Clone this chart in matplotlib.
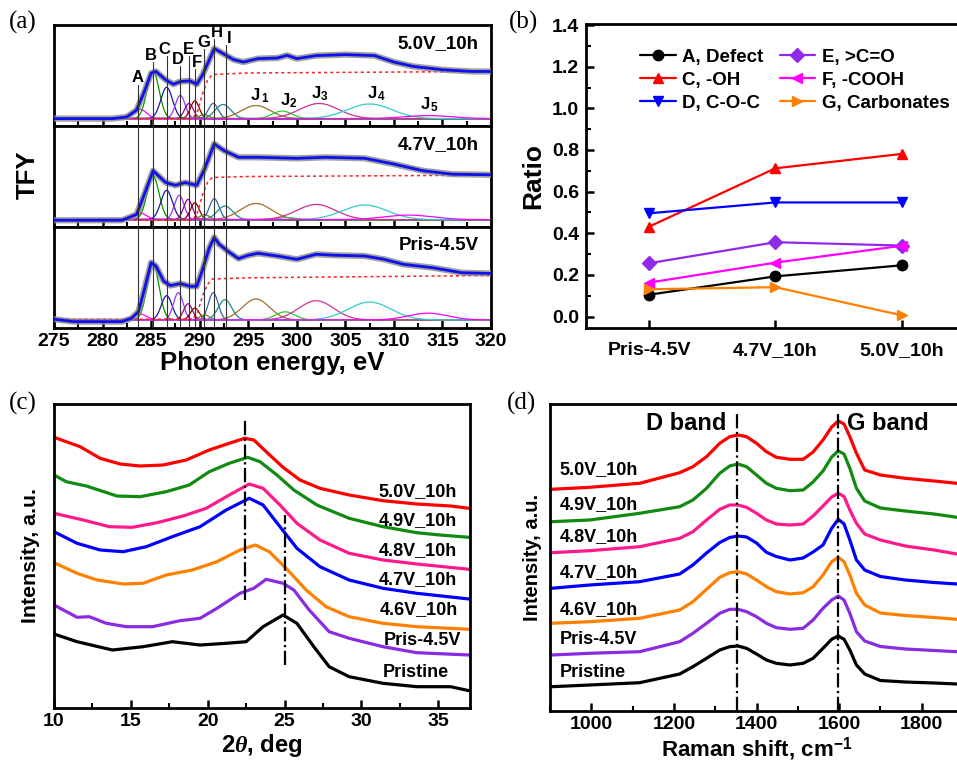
import numpy as np
import matplotlib
matplotlib.use("Agg")
import matplotlib.pyplot as plt
from matplotlib.ticker import MultipleLocator, FormatStrFormatter

plt.rcParams['font.family'] = ['Liberation Sans', 'DejaVu Sans']
plt.rcParams['font.weight'] = 'bold'
plt.rcParams['mathtext.fontset'] = 'custom'
plt.rcParams['mathtext.rm'] = 'Liberation Sans:bold'
plt.rcParams['mathtext.bf'] = 'Liberation Sans:bold'
plt.rcParams['mathtext.it'] = 'Liberation Serif:italic:bold'
plt.rcParams['lines.solid_joinstyle'] = 'round'
plt.rcParams['lines.solid_capstyle'] = 'round'

# ---------------- Panel (a) data ----------------
sample_names_a = ['5.0V_10h', '4.7V_10h', 'Pris-4.5V']
fit_e = [
    [275, 281, 282.5, 283.5, 284.3, 285, 285.5, 286.5, 287.3, 288, 289, 289.7, 290.3, 291, 291.5,
     292.3, 293.5, 294.5, 296, 298, 299, 300, 302, 305, 308, 310, 312, 315, 318, 320],
    [275, 282, 283.5, 284.3, 285.2, 286.5, 287.5, 288.5, 289.7, 290.5, 291.5, 292.5, 294, 296,
     300, 303, 307, 310, 313, 316, 320],
    [275, 277, 282, 283, 283.7, 284.3, 285, 285.5, 286.3, 287, 288, 289, 289.7, 290.3, 291, 291.5,
     292, 293, 294, 295, 296, 298, 300, 302, 304, 307, 309, 311, 314, 317, 320],
]
fit_i = [
    [7.3, 7.3, 9, 15.7, 34, 52.3, 54, 45.7, 41.3, 44, 44.7, 41.3, 50.7, 65.7, 76.7,
     72.3, 65.7, 63.3, 66.7, 67.3, 70, 66.7, 69.7, 70.7, 69.7, 63.3, 59, 55.7, 54, 54],
    [6.7, 6.7, 12.3, 32.3, 55.7, 44, 41.3, 44, 41.3, 57.3, 82.3, 75.7, 69, 69,
     68, 69, 68, 62.3, 55.7, 52.3, 51.7],
    [8.7, 6.3, 6.3, 9.7, 16.3, 38, 64.7, 61.3, 46.3, 42, 44, 41.3, 41.3, 58, 79.7, 89.7,
     83, 75.3, 68.7, 72, 74, 71.3, 68, 73, 72, 71.3, 68, 63, 59.7, 54.7, 54],
]
step_e = [275, 289.3, 289.8, 290.3, 290.8, 291.3, 295, 320]
step_i = [
    [7.3, 7.3, 15, 32, 45, 51, 52.5, 54],
    [6.7, 6.7, 15, 32, 44, 49, 50, 51.3],
    [8.7, 8.7, 16, 32, 43, 48.5, 49.7, 52],
]
comp_colors = ['#FF00FF', '#009900', '#1A1A8C', '#9933FF', '#99007A', '#8B0000', '#808000',
               '#3366A0', '#169090', '#A0702A', '#33CC33', '#CC3399', '#33CCCC', '#FF00FF']
comp_center = [
    [283.8, 285.2, 286.6, 288.0, 288.9, 289.5, 290.45, 291.4, 292.4, 295.8, 298.5, 302.3, 307.5, 313.5],
    [283.8, 285.2, 286.6, 287.9, 288.8, 289.5, 290.5, 291.5, 292.6, 295.8, 299.0, 302.0, 307.0, 311.5],
    [283.8, 285.2, 286.6, 287.8, 288.8, 289.5, 290.5, 291.4, 292.6, 295.8, 298.8, 302.0, 307.5, 313.5],
]
comp_amp = [
    [9.5, 47, 31, 23, 15, 17.5, 4, 15, 14, 13, 7.5, 15, 14.5, 3],
    [6.7, 43, 29, 24, 20, 16.7, 5, 20.7, 13.4, 16, 2, 15, 14.5, 4.5],
    [6, 55, 24, 27, 16, 11.7, 5, 27, 20, 20.7, 8, 19, 17.7, 6.7],
]
comp_sigma = [
    [0.7, 0.62, 0.6, 0.5, 0.45, 0.45, 0.5, 0.5, 0.8, 1.5, 1.0, 2.0, 2.3, 2.5],
    [0.7, 0.62, 0.6, 0.5, 0.45, 0.45, 0.5, 0.5, 0.8, 1.6, 1.0, 2.0, 2.3, 2.5],
    [0.7, 0.62, 0.55, 0.5, 0.45, 0.45, 0.5, 0.5, 0.7, 1.4, 1.0, 1.8, 2.2, 2.0],
]
comp_base = [7.3, 7.3, 8.0]
line_labels = ['A', 'B', 'C', 'D', 'E', 'F', 'G', 'H', 'I']
line_pos = [283.65, 285.2, 286.6, 288.0, 288.9, 289.5, 290.45, 291.5, 292.7]
label_x = [283.65, 284.96, 286.36, 287.74, 288.87, 289.7, 290.38, 291.76, 293.05]
label_y = [48, 70, 76, 66, 76, 63, 83, 93, 87]
j_subs = ['1', '2', '3', '4', '5']
j_x = [296.0, 299.0, 302.2, 308.0, 313.5]
j_y = [30, 25, 32, 32, 21]

# ---------------- Panel (b) data ----------------
b_categories = ['Pris-4.5V', '4.7V_10h', '5.0V_10h']
b_series = {
    'A, Defect': [0.105, 0.193, 0.246],
    'C, -OH': [0.432, 0.712, 0.781],
    'D, C-O-C': [0.496, 0.548, 0.548],
    'E, >C=O': [0.256, 0.357, 0.341],
    'F, -COOH': [0.163, 0.259, 0.340],
    'G, Carbonates': [0.131, 0.141, 0.006],
}
b_colors = ['black', '#FF0000', '#0000FF', '#8F2BE8', '#FF00FF', '#FF8000']
b_markers = ['o', '^', 'v', 'D', '<', '>']

# ---------------- Panel (c) data ----------------
c_names = ['5.0V_10h', '4.9V_10h', '4.8V_10h', '4.7V_10h', '4.6V_10h', 'Pris-4.5V', 'Pristine']
c_colors = ['#FF0000', '#108A10', '#FF1A8C', '#0000FF', '#FF8000', '#8A2BE2', '#000000']
c_x = [
    [10, 11.7, 13, 14.3, 15.6, 17.1, 18.6, 20.1, 21.4, 22.4, 23, 23.8, 24.9, 26, 27.3, 29.2, 31.4, 33.6, 35.8, 37],
    [10, 10.8, 12.1, 14.1, 15.6, 17.3, 18.8, 20.1, 21.4, 22.6, 23.4, 24.5, 25.6, 27.1, 29.2, 31.4, 33.6, 35.1, 37],
    [10, 11.9, 13.6, 15.1, 16.7, 18.4, 19.9, 21.4, 22.7, 23.6, 24.7, 25.8, 27.3, 29.2, 31.4, 33.6, 37],
    [10, 11.5, 13, 14.5, 16, 17.7, 19.5, 21.2, 22.7, 23.6, 24.7, 25.8, 27.3, 29.2, 31.4, 33.6, 37],
    [10, 11.5, 12.8, 14.5, 15.8, 17.3, 19, 20.6, 22.1, 23.1, 24, 25.1, 26.4, 27.7, 29.2, 31.4, 33.6, 37],
    [10, 11.5, 12.3, 13.4, 14.7, 16.4, 18.2, 19.5, 20.6, 22.1, 23, 23.8, 24.9, 25.6, 26.6, 27.9, 29.2, 31.4, 33.6, 37],
    [10, 11.5, 13.8, 15.8, 17.7, 19.5, 21.2, 22.5, 23.6, 24.9, 25.8, 26.9, 27.9, 29.2, 31.4, 33.6, 35.8, 37],
]
c_y = [
    [270.4, 261, 249.4, 243.7, 241.7, 242.7, 247.7, 257.7, 264.4, 269.4, 267.7, 256, 240.4, 227.7, 219.4, 212.7, 207, 203.7, 201.7, 199.4],
    [232.7, 226, 221.7, 211.7, 211, 216, 222.7, 236, 244.4, 250.4, 246, 232.7, 217.7, 202.7, 189.4, 181, 175, 172.7, 170.4],
    [194.4, 187.7, 181, 180.4, 185, 191.7, 199.4, 212.7, 223.7, 219.4, 202.7, 184.4, 167.7, 154.4, 147.7, 143.7, 138.4],
    [176, 164.4, 157.7, 156, 161, 171, 181, 197.7, 209.4, 202.7, 181, 159.4, 141, 127.7, 119.4, 114.4, 108.7],
    [145, 134.4, 127.7, 123.7, 124.4, 132.7, 137.7, 146, 157.7, 162.7, 156, 139.4, 117.7, 101, 91, 84.4, 81, 78.4],
    [102.7, 90.4, 91, 84.4, 81, 81, 87, 89.4, 99.4, 114.4, 119.4, 128.4, 124.4, 117.7, 97.7, 76, 69.4, 61, 55, 52.7],
    [73.7, 66, 57.7, 61, 66, 62.7, 64.4, 66, 81, 92.7, 84.4, 61, 41, 31, 24.4, 21, 21, 17],
]
c_label_y = [216, 187, 157, 128, 98, 67, 35]
c_label_x = [36.2, 36.2, 36.2, 36.2, 36.3, 36.5, 35.7]
c_vlines = [(22.4, 107.7, 287.7), (25.0, 42.7, 192.7)]

# ---------------- Panel (d) data ----------------
d_x = [903, 996, 1117, 1214, 1246, 1279, 1311, 1335, 1355, 1376, 1400, 1424, 1448, 1481, 1513,
       1537, 1561, 1582, 1598, 1612, 1626, 1642, 1662, 1700, 1760, 1830, 1885]
d_y = [
    [221.7, 223.7, 227.7, 238.3, 244.3, 254.3, 267.7, 274.3, 276, 274.3, 267.7, 259.3, 253.7, 251.7, 251.7,
     259, 271, 284, 290, 287, 274.3, 257.7, 241, 236, 232.7, 230, 227.7],
    [189.3, 191, 197.7, 204.3, 211, 222.7, 237.7, 245, 247, 244.3, 236, 227.7, 222.7, 220.3, 221,
     229, 240, 254, 260, 257, 242.7, 222.7, 210, 203, 200, 197, 193.7],
    [158.3, 160.3, 164.3, 172.7, 179.3, 191, 201.7, 206, 206, 203.7, 197.7, 191, 187, 186, 187,
     195, 205, 214, 217.7, 214.5, 201, 187.7, 177, 171, 165, 161, 157],
    [122.7, 126, 129.3, 137, 146, 158, 168.5, 173.5, 175, 174, 168, 158.7, 154.5, 151, 153,
     159, 166, 182.7, 191.7, 187, 171, 151, 141, 134.5, 131, 128.5, 127],
    [87.7, 89.3, 92.7, 101, 109.3, 121.7, 133.7, 138.3, 139.3, 137, 131, 124.3, 119.3, 117, 118.3,
     124.3, 136, 149.3, 153.7, 149.3, 136, 117.7, 106, 98, 95.5, 93.5, 91.7],
    [56, 57.7, 59.3, 69.3, 77.7, 87.7, 97.7, 101.7, 101.7, 99.3, 94.3, 87.7, 83.3, 81.7, 82.7,
     91, 102.7, 111, 115, 111, 97.7, 79.3, 70, 64.5, 62, 60.5, 59.3],
    [24.3, 26, 28.3, 37, 44.3, 52.7, 61, 64.3, 65, 62.7, 57, 51, 47.7, 46, 47.7,
     52.7, 62.7, 71.7, 75, 71.7, 61, 46, 37, 30.5, 29, 28, 27],
]
d_label_y = [241.7, 206, 174.3, 138.3, 101.7, 71.7, 38.3]
d_bands = [('D band', 1352, 1230), ('G band', 1598, 1717)]

# ================= Figure =================
W, H = 957, 762
fig = plt.figure(figsize=(W / 100, H / 100), dpi=100)


def rect(l, t, r, b):
    return [l / W, 1 - b / H, (r - l) / W, (b - t) / H]


SP = 2.0
TICKFS = 14
LBLFS = 13.5


def bold_ticks(ax):
    for t in ax.get_xticklabels() + ax.get_yticklabels():
        t.set_fontweight('bold')


# ---- (a) ----
tops = [25, 126, 227]
bots = [126, 227, 328]
grid = np.linspace(275, 320, 1201)
axes_a = []
for k in range(3):
    ax = fig.add_axes(rect(54, tops[k], 491, bots[k]))
    axes_a.append(ax)
    ax.set_xlim(275, 320)
    ax.set_ylim(0, 100)
    ax.set_yticks([])
    ax.xaxis.set_major_locator(MultipleLocator(5))
    ax.xaxis.set_minor_locator(MultipleLocator(2.5))
    ax.tick_params(axis='x', which='major', direction='in', length=6, width=1.8)
    ax.tick_params(axis='x', which='minor', direction='in', length=3.5, width=1.5)
    for s in ax.spines.values():
        s.set_linewidth(SP)
    for j in range(len(comp_colors)):
        g = comp_base[k] + comp_amp[k][j] * np.exp(-0.5 * ((grid - comp_center[k][j]) / comp_sigma[k][j]) ** 2)
        ax.plot(grid, g, color=comp_colors[j], lw=0.9, zorder=2)
    ax.plot(step_e, step_i[k], color='#FF2020', lw=1.1, ls=(0, (2, 2)), zorder=3)
    ax.plot(fit_e[k], fit_i[k], color='#8A8A8A', lw=4.5, alpha=0.8, zorder=4)
    ax.plot(fit_e[k], fit_i[k], color='#1010EE', lw=2.0, zorder=5)
    ax.text(0.972, 0.82, sample_names_a[k], transform=ax.transAxes, ha='right', va='center',
            fontsize=LBLFS, fontweight='bold')
    for idx, p in enumerate(line_pos):
        if k == 0:
            ax.plot([p, p], [0, label_y[idx] - 7], color='#333333', lw=0.8, zorder=6)
        else:
            ax.axvline(p, color='#333333', lw=0.8, zorder=6)
    if k < 2:
        ax.tick_params(axis='x', labelbottom=False)
    else:
        ax.tick_params(axis='x', labelsize=TICKFS)
        bold_ticks(ax)
        ax.set_xlabel('Photon energy, eV', fontsize=18.5, fontweight='bold', labelpad=1)
for lab, lx, ly in zip(line_labels, label_x, label_y):
    axes_a[0].text(lx, ly, lab, ha='center', va='center', fontsize=12, fontweight='bold', zorder=7)
for sub, jx, jy in zip(j_subs, j_x, j_y):
    axes_a[0].text(jx + 0.25, jy, 'J', ha='right', va='center', fontsize=12, fontweight='bold')
    axes_a[0].text(jx + 0.3, jy - 3.5, sub, ha='left', va='center', fontsize=8.5, fontweight='bold')
fig.text(28 / W, 1 - 175 / H, 'TFY', rotation=90, ha='center', va='center', fontsize=18.5, fontweight='bold')

# ---- (b) ----
axb = fig.add_axes(rect(586, 24, 964.8, 328))
xb = np.arange(1, len(b_categories) + 1)
for (name, vals), c, m in zip(b_series.items(), b_colors, b_markers):
    axb.plot(xb, vals, color=c, marker=m, ms=7.5, lw=1.6, label=name)
axb.set_xlim(0.5, 3.5)
axb.set_ylim(-0.055, 1.405)
axb.set_xticks(xb)
axb.set_xticklabels(b_categories)
axb.yaxis.set_major_locator(MultipleLocator(0.2))
axb.yaxis.set_minor_locator(MultipleLocator(0.1))
axb.yaxis.set_major_formatter(FormatStrFormatter('%.1f'))
axb.tick_params(which='major', direction='in', length=6, width=1.8, labelsize=TICKFS, pad=5)
axb.tick_params(which='minor', direction='in', length=3.5, width=1.5)
axb.tick_params(axis='x', pad=10)
bold_ticks(axb)
for s in axb.spines.values():
    s.set_linewidth(SP)
axb.set_ylabel('Ratio', fontsize=19, fontweight='bold', labelpad=5)
axb.legend(ncol=2, loc='upper left', bbox_to_anchor=(0.143, 0.918), frameon=False,
           borderpad=0, borderaxespad=0, handlelength=1.9, handletextpad=0.35,
           columnspacing=0.85, labelspacing=0.3, prop={'weight': 'bold', 'size': 13.5})

# ---- (c) ----
axc = fig.add_axes(rect(54, 404, 470, 707.7))
for xs, ys, c in zip(c_x, c_y, c_colors):
    axc.plot(xs, ys, color=c, lw=2.3)
for name, lx, ly in zip(c_names, c_label_x, c_label_y):
    axc.text(lx, ly, name, ha='right', va='center', fontsize=13, fontweight='bold')
for vx, y0, y1 in c_vlines:
    axc.plot([vx, vx], [y0, y1], color='black', lw=1.6, ls='-.')
axc.set_xlim(10, 37.06)
axc.set_ylim(0, 303.7)
axc.set_yticks([])
axc.xaxis.set_major_locator(MultipleLocator(5))
axc.xaxis.set_minor_locator(MultipleLocator(2.5))
axc.tick_params(axis='x', which='major', direction='in', length=6, width=1.8, labelsize=TICKFS)
axc.tick_params(axis='x', which='minor', direction='in', length=3.5, width=1.5)
bold_ticks(axc)
for s in axc.spines.values():
    s.set_linewidth(SP)
axc.set_xlabel('2$\\mathit{\\theta}$, deg', fontsize=17.2, fontweight='bold', labelpad=2)
axc.set_ylabel('Intensity, a.u.', fontsize=15.3, fontweight='bold', labelpad=10)

# ---- (d) ----
axd = fig.add_axes(rect(550, 404, 963, 711))
for ys, c in zip(d_y, c_colors):
    axd.plot(d_x, ys, color=c, lw=2.3)
for name, ly in zip(c_names, d_label_y):
    axd.text(923, ly, name, ha='left', va='center', fontsize=13, fontweight='bold')
for bname, bx, tx in d_bands:
    axd.plot([bx, bx], [0, 298], color='black', lw=1.6, ls='-.')
    axd.text(tx, 288, bname, ha='center', va='center', fontsize=17, fontweight='bold')
axd.set_xlim(900, 1900)
axd.set_ylim(0, 307)
axd.set_yticks([])
axd.xaxis.set_major_locator(MultipleLocator(200))
axd.xaxis.set_minor_locator(MultipleLocator(100))
axd.tick_params(axis='x', which='major', direction='in', length=6, width=1.8, labelsize=TICKFS)
axd.tick_params(axis='x', which='minor', direction='in', length=3.5, width=1.5)
bold_ticks(axd)
for s in axd.spines.values():
    s.set_linewidth(SP)
axd.set_xlabel('Raman shift, cm$^{\\mathbf{-1}}$', fontsize=16, fontweight='bold', labelpad=2)
axd.set_ylabel('Intensity, a.u.', fontsize=14.5, fontweight='bold', labelpad=6)

# panel labels
for lab, px, py in [('(a)', 23, 22), ('(b)', 523, 22), ('(c)', 23, 403), ('(d)', 521, 403)]:
    fig.text(px / W, 1 - py / H, lab, ha='center', va='center', fontsize=18,
             family='Liberation Serif', fontweight='normal')

fig.savefig('out.png', dpi=100)
